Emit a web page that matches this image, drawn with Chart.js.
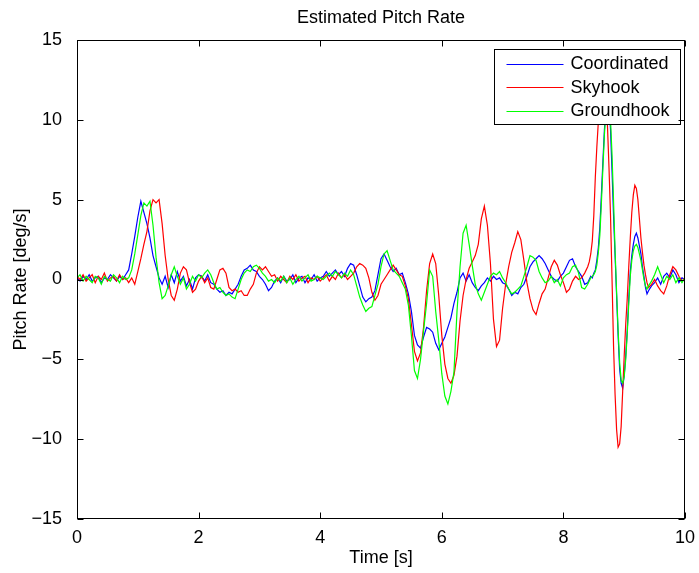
<!DOCTYPE html>
<html>
<head>
<meta charset="utf-8">
<title>Estimated Pitch Rate</title>
<script src="https://cdn.jsdelivr.net/npm/chart.js@4.4.1/dist/chart.umd.min.js"></script>
<style>
  html, body { margin: 0; padding: 0; background: #fff; }
  #wrap { width: 699px; height: 573px; }
</style>
</head>
<body>
<div id="wrap"><canvas id="pitch-rate"></canvas></div>
<script>
// time base [s]: 0.05 s steps, 0.025 s through the big spike
const time = [
  0, 0.05, 0.1, 0.15, 0.2, 0.25, 0.3, 0.35, 0.4, 0.45,
  0.5, 0.55, 0.6, 0.65, 0.7, 0.75, 0.8, 0.85, 0.9, 0.95,
  1, 1.05, 1.1, 1.15, 1.2, 1.25, 1.3, 1.35, 1.4, 1.45,
  1.5, 1.55, 1.6, 1.65, 1.7, 1.75, 1.8, 1.85, 1.9, 1.95,
  2, 2.05, 2.1, 2.15, 2.2, 2.25, 2.3, 2.35, 2.4, 2.45,
  2.5, 2.55, 2.6, 2.65, 2.7, 2.75, 2.8, 2.85, 2.9, 2.95,
  3, 3.05, 3.1, 3.15, 3.2, 3.25, 3.3, 3.35, 3.4, 3.45,
  3.5, 3.55, 3.6, 3.65, 3.7, 3.75, 3.8, 3.85, 3.9, 3.95,
  4, 4.05, 4.1, 4.15, 4.2, 4.25, 4.3, 4.35, 4.4, 4.45,
  4.5, 4.55, 4.6, 4.65, 4.7, 4.75, 4.8, 4.85, 4.9, 4.95,
  5, 5.05, 5.1, 5.15, 5.2, 5.25, 5.3, 5.35, 5.4, 5.45,
  5.5, 5.55, 5.6, 5.65, 5.7, 5.75, 5.8, 5.85, 5.9, 5.95,
  6, 6.05, 6.1, 6.15, 6.2, 6.25, 6.3, 6.35, 6.4, 6.45,
  6.5, 6.55, 6.6, 6.65, 6.7, 6.75, 6.8, 6.85, 6.9, 6.95,
  7, 7.05, 7.1, 7.15, 7.2, 7.25, 7.3, 7.35, 7.4, 7.45,
  7.5, 7.55, 7.6, 7.65, 7.7, 7.75, 7.8, 7.85, 7.9, 7.95,
  8, 8.05, 8.1, 8.15, 8.2, 8.25, 8.3, 8.35, 8.4,
  8.425, 8.45, 8.475, 8.5, 8.525, 8.55, 8.575, 8.6, 8.625, 8.65,
  8.675, 8.7, 8.725, 8.75, 8.775, 8.8, 8.825, 8.85, 8.875, 8.9,
  8.925, 8.95, 8.975, 9, 9.025, 9.05, 9.075, 9.1, 9.125, 9.15,
  9.175, 9.2, 9.225, 9.25, 9.275, 9.3, 9.325, 9.35, 9.375, 9.4,
  9.45, 9.5, 9.55, 9.6, 9.65, 9.7, 9.75, 9.8, 9.85, 9.9, 9.95, 10
];

// pitch rate [deg/s]
const coordinated = [
  0.1, -0.1, 0.2, 0.0, 0.3, -0.1, 0.1, 0.2, -0.2, 0.1,
  0.0, 0.3, 0.1, -0.1, 0.2, 0.0, 0.3, 0.6, 1.6, 2.7,
  3.9, 4.9, 4.2, 3.5, 2.6, 1.5, 0.8, 0.1, -0.3, 0.2,
  -0.5, 0.3, -0.2, 0.5, -0.1, 0.2, -0.4, 0.0, -0.6, 0.1,
  0.3, 0.2, -0.1, 0.3, -0.2, -0.3, -0.6, -0.8, -0.7, -1.0,
  -0.8, -0.9, -0.6, -0.3, 0.2, 0.6, 0.7, 0.9, 0.6, 0.5,
  0.2, 0.0, -0.3, -0.7, -0.5, -0.1, 0.1, -0.2, 0.2, -0.1,
  0.0, 0.3, -0.2, 0.1, 0.2, -0.2, 0.1, 0.0, 0.3, -0.1,
  0.1, 0.2, 0.5, 0.2, 0.4, 0.6, 0.3, 0.5, 0.2, 0.7,
  1.0, 0.9, 0.3, -0.4, -1.1, -1.4, -1.2, -1.1, -0.7, 0.3,
  1.3, 1.6, 1.2, 0.8, 0.5, 0.7, 0.3, 0.4, -0.2, -0.9,
  -2.0, -3.5, -4.1, -4.3, -3.6, -3.0, -3.1, -3.3, -4.0, -4.4,
  -4.0, -3.6, -3.0, -2.4, -1.5, -0.8, 0.1, 0.4, -0.1, 0.3,
  -0.2, -0.5, -0.7, -0.4, -0.2, 0.1, -0.1, 0.2, 0.0, 0.1,
  -0.2, -0.3, -0.6, -1.0, -0.8, -0.9, -0.5, -0.3, 0.2, 0.8,
  1.1, 1.3, 1.5, 1.3, 1.0, 0.6, 0.2, 0.0, -0.1, 0.2,
  0.4, 0.8, 1.2, 1.3, 0.8, 0.5, 0.2, -0.3, -0.2,
  0.0, 0.2, 0.1, 0.4, 0.6, 1.2, 2.0, 3.3, 5.3, 7.4,
  9.4, 10.8, 11.3, 10.9, 9.4, 6.8, 4.0, 1.5, -1.0, -3.5,
  -5.6, -6.5, -6.8, -6.0, -4.8, -3.2, -1.2, 0.5, 1.5, 2.2,
  2.7, 2.9, 2.6, 2.1, 1.6, 0.8, 0.2, -0.5, -0.9, -0.7,
  -0.4, -0.2, 0.1, -0.3, 0.2, 0.4, 0.1, 0.6, 0.3, -0.2, 0.1, 0.0
];

const skyhook = [
  0.2, 0.0, 0.3, -0.1, 0.1, 0.3, -0.2, 0.2, 0.0, 0.4,
  -0.1, 0.1, 0.2, -0.1, 0.3, 0.0, 0.1, -0.2, 0.1, -0.3,
  0.5, 1.3, 2.2, 3.0, 4.3, 5.0, 4.8, 5.0, 3.5, 1.5,
  0.0, -1.0, -1.3, -0.6, 0.4, 0.8, 0.6, -0.2, -0.8, -0.6,
  -0.1, 0.2, -0.2, 0.1, -0.5, -0.6, 0.0, 0.6, 0.7, 0.4,
  -0.5, -0.7, -0.6, -0.8, -0.7, -1.0, -1.0, -0.6, -0.3, 0.4,
  0.8, 0.6, 0.8, 0.5, 0.2, 0.3, -0.1, 0.2, 0.0, -0.2,
  0.2, 0.0, 0.3, -0.1, 0.1, 0.2, -0.2, 0.1, 0.0, 0.2,
  -0.1, 0.1, 0.3, -0.1, 0.2, 0.0, 0.4, 0.1, 0.3, 0.0,
  0.2, 0.4, 0.8, 1.0, 0.9, 0.7, 0.1, -0.8, -1.3, -1.0,
  -0.3, 0.0, 0.3, 0.6, 0.9, 0.6, 0.3, 0.2, -0.4, -1.2,
  -2.8, -4.5, -5.1, -4.6, -3.0, -0.7, 1.0, 1.6, 1.0, -1.0,
  -3.5, -5.3, -6.2, -6.5, -6.0, -4.8, -2.6, -1.0, 0.0, 0.7,
  1.1, 1.5, 2.2, 3.8, 4.6, 3.4, 1.0, -2.5, -4.2, -3.8,
  -1.8, -0.3, 0.8, 1.7, 2.3, 3.0, 2.5, 1.2, -0.2, -1.2,
  -1.9, -2.2, -1.5, -0.9, -0.6, 0.1, 0.8, 1.2, 0.9, 0.3,
  -0.2, -0.8, -0.6, -0.1, 0.2, 0.0, 0.1, 0.4, 0.8,
  1.1, 1.6, 2.4, 4.0, 6.4, 8.3, 9.9, 11.0, 11.6, 11.8,
  11.5, 10.8, 9.6, 7.0, 4.0, 0.0, -4.2, -7.2, -9.4, -10.5,
  -10.3, -9.2, -7.0, -4.8, -2.8, -1.2, 0.8, 2.6, 4.2, 5.3,
  5.9, 5.7, 5.0, 3.8, 2.6, 1.7, 0.9, 0.3, -0.2, -0.5,
  -0.3, 0.0, -0.4, -0.7, -0.9, -0.4, 0.3, 0.8, 0.6, 0.2, -0.1, 0.1
];

const groundhook = [
  0.1, 0.3, -0.1, 0.2, 0.0, -0.2, 0.2, 0.1, -0.3, 0.2,
  0.0, -0.1, 0.3, 0.1, -0.2, 0.2, 0.0, 0.1, 0.6, 1.6,
  2.8, 4.0, 4.8, 4.6, 4.9, 3.4, 1.4, -0.2, -1.2, -1.0,
  -0.4, 0.3, 0.8, 0.2, -0.3, 0.1, -0.6, -0.3, 0.2, -0.1,
  0.3, 0.1, 0.4, 0.6, 0.3, -0.2, -0.6, -0.5, -0.8, -1.0,
  -0.9, -1.1, -1.2, -0.6, 0.0, 0.4, 0.6, 0.5, 0.8, 0.9,
  0.7, 0.4, 0.2, -0.1, 0.0, -0.2, 0.1, -0.1, 0.2, -0.2,
  0.1, -0.3, 0.0, 0.2, -0.1, 0.1, 0.3, -0.1, 0.0, 0.2,
  0.1, 0.0, 0.2, 0.4, 0.2, 0.5, 0.3, 0.1, 0.4, 0.2,
  0.6, 0.3, -0.4, -1.1, -1.6, -2.0, -1.8, -1.7, -1.0, -0.3,
  0.8, 1.6, 1.8, 1.2, 0.6, 0.4, 0.2, -0.2, -0.6, -1.6,
  -3.5, -5.7, -6.2, -5.0, -3.2, -1.5, 0.6, 0.2, -2.0, -3.8,
  -5.9, -7.3, -7.8, -7.0, -5.8, -2.0, 0.8, 2.9, 3.4, 2.2,
  0.9, -0.3, -0.9, -1.3, -0.8, -0.3, 0.2, 0.4, 0.3, 0.5,
  0.1, -0.2, -0.6, -0.9, -0.8, -0.6, -0.4, 0.2, 0.8, 1.5,
  1.4, 1.2, 0.5, 0.1, -0.2, -0.1, 0.2, -0.2, 0.0, -0.4,
  0.1, 0.3, 0.4, 0.8, 0.9, 0.4, -0.5, -0.6, -0.3,
  -0.1, 0.1, 0.2, 0.3, 0.5, 0.9, 1.7, 2.8, 4.8, 7.0,
  9.1, 10.6, 11.2, 11.0, 10.0, 7.8, 4.9, 1.8, -0.8, -3.2,
  -5.2, -6.3, -6.5, -6.1, -5.0, -3.4, -1.5, 0.2, 1.2, 1.8,
  2.1, 2.2, 2.0, 1.6, 1.2, 0.6, 0.0, -0.4, -0.6, -0.4,
  -0.1, 0.3, 0.8, 0.3, -0.2, 0.2, 0.0, 0.3, -0.2, 0.1, -0.2, 0.1
];

const seriesNames = ["Coordinated", "Skyhook", "Groundhook"];
const xTicks = [0, 2, 4, 6, 8, 10];
const yTicks = [-15, -10, -5, 0, 5, 10, 15];

const FONT = "'Liberation Sans', Arial, Helvetica, sans-serif";
Chart.defaults.font.family = FONT;
Chart.defaults.font.size = 18;
Chart.defaults.color = "#000";

function toPoints(values) {
  return values.map((v, i) => ({ x: time[i], y: v }));
}

function minusLabel(v) {
  return v < 0 ? "\u2212" + Math.abs(v) : String(v);
}

// matlab style box: frame, inward ticks on all sides, boxed legend
const matlabAxes = {
  id: "matlabAxes",
  afterDraw(chart) {
    const { ctx, chartArea: a, scales } = chart;
    const L = Math.round(a.left) + 0.5, R = Math.round(a.right) - 0.5;
    const T = Math.round(a.top) + 0.5, B = Math.round(a.bottom) - 0.5;
    const tick = 6;

    ctx.save();
    // legend
    const bw = 186, bh = 75;
    const bx = Math.round(a.right - 5 - bw) + 0.5, by = Math.round(a.top + 9) + 0.5;
    ctx.fillStyle = "#fff";
    ctx.fillRect(bx, by, bw, bh);
    ctx.strokeStyle = "#000";
    ctx.lineWidth = 1;
    ctx.strokeRect(bx, by, bw, bh);
    ctx.font = "18px " + FONT;
    ctx.textBaseline = "middle";
    ctx.textAlign = "left";
    chart.data.datasets.forEach((ds, i) => {
      const ry = by + 14 + i * 23.5;
      ctx.strokeStyle = ds.borderColor;
      ctx.beginPath();
      ctx.moveTo(bx + 12, Math.round(ry) + 0.5);
      ctx.lineTo(bx + 69, Math.round(ry) + 0.5);
      ctx.stroke();
      ctx.fillStyle = "#000";
      ctx.fillText(ds.label, bx + 76, ry + 1);
    });

    // frame
    ctx.strokeStyle = "#000";
    ctx.lineWidth = 1;
    ctx.strokeRect(L, T, R - L, B - T);

    // ticks
    ctx.beginPath();
    xTicks.forEach(v => {
      const px = Math.round(scales.x.getPixelForValue(v)) + 0.5;
      ctx.moveTo(px, B); ctx.lineTo(px, B - tick);
      ctx.moveTo(px, T); ctx.lineTo(px, T + tick);
    });
    yTicks.forEach(v => {
      const py = Math.round(scales.y.getPixelForValue(v)) + 0.5;
      ctx.moveTo(L, py); ctx.lineTo(L + tick, py);
      ctx.moveTo(R, py); ctx.lineTo(R - tick, py);
    });
    ctx.stroke();
    ctx.restore();
  }
};

const ctx = document.getElementById("pitch-rate");
new Chart(ctx, {
  type: "line",
  data: {
    datasets: [
      { label: seriesNames[0], data: toPoints(coordinated), borderColor: "#0000ff", order: 3 },
      { label: seriesNames[1], data: toPoints(skyhook), borderColor: "#ff0000", order: 2 },
      { label: seriesNames[2], data: toPoints(groundhook), borderColor: "#00ff00", order: 1 },
    ],
  },
  options: {
    responsive: true,
    maintainAspectRatio: false,
    animation: false,
    layout: { padding: { left: 0, right: 14, top: 0, bottom: 0 } },
    elements: {
      line: { borderWidth: 1.2, tension: 0, fill: false },
      point: { radius: 0, hoverRadius: 0 },
    },
    plugins: {
      legend: { display: false },
      tooltip: { enabled: false },
      title: {
        display: true,
        text: "Estimated Pitch Rate",
        fullSize: false,
        font: { size: 18, weight: "normal" },
        padding: { top: 7, bottom: 11.4 },
      },
    },
    scales: {
      x: {
        type: "linear",
        min: 0,
        max: 10,
        grid: { display: false },
        border: { display: false },
        afterBuildTicks: s => { s.ticks = xTicks.map(v => ({ value: v })); },
        ticks: { padding: 0, maxRotation: 0, autoSkip: false, callback: minusLabel },
        title: { display: true, text: "Time [s]", padding: { top: 0, bottom: 4 } },
        afterFit: s => { s.height = 54; s.paddingLeft = 0; s.paddingRight = 0; },
      },
      y: {
        type: "linear",
        min: -15,
        max: 15,
        grid: { display: false },
        border: { display: false },
        afterBuildTicks: s => { s.ticks = yTicks.map(v => ({ value: v })); },
        ticks: { padding: 7, autoSkip: false, callback: minusLabel },
        title: { display: true, text: "Pitch Rate [deg/s]", padding: { top: 10, bottom: 0 } },
        afterFit: s => { s.width = 77; s.paddingTop = 0; s.paddingBottom = 0; },
      },
    },
  },
  plugins: [matlabAxes],
});
</script>
</body>
</html>
